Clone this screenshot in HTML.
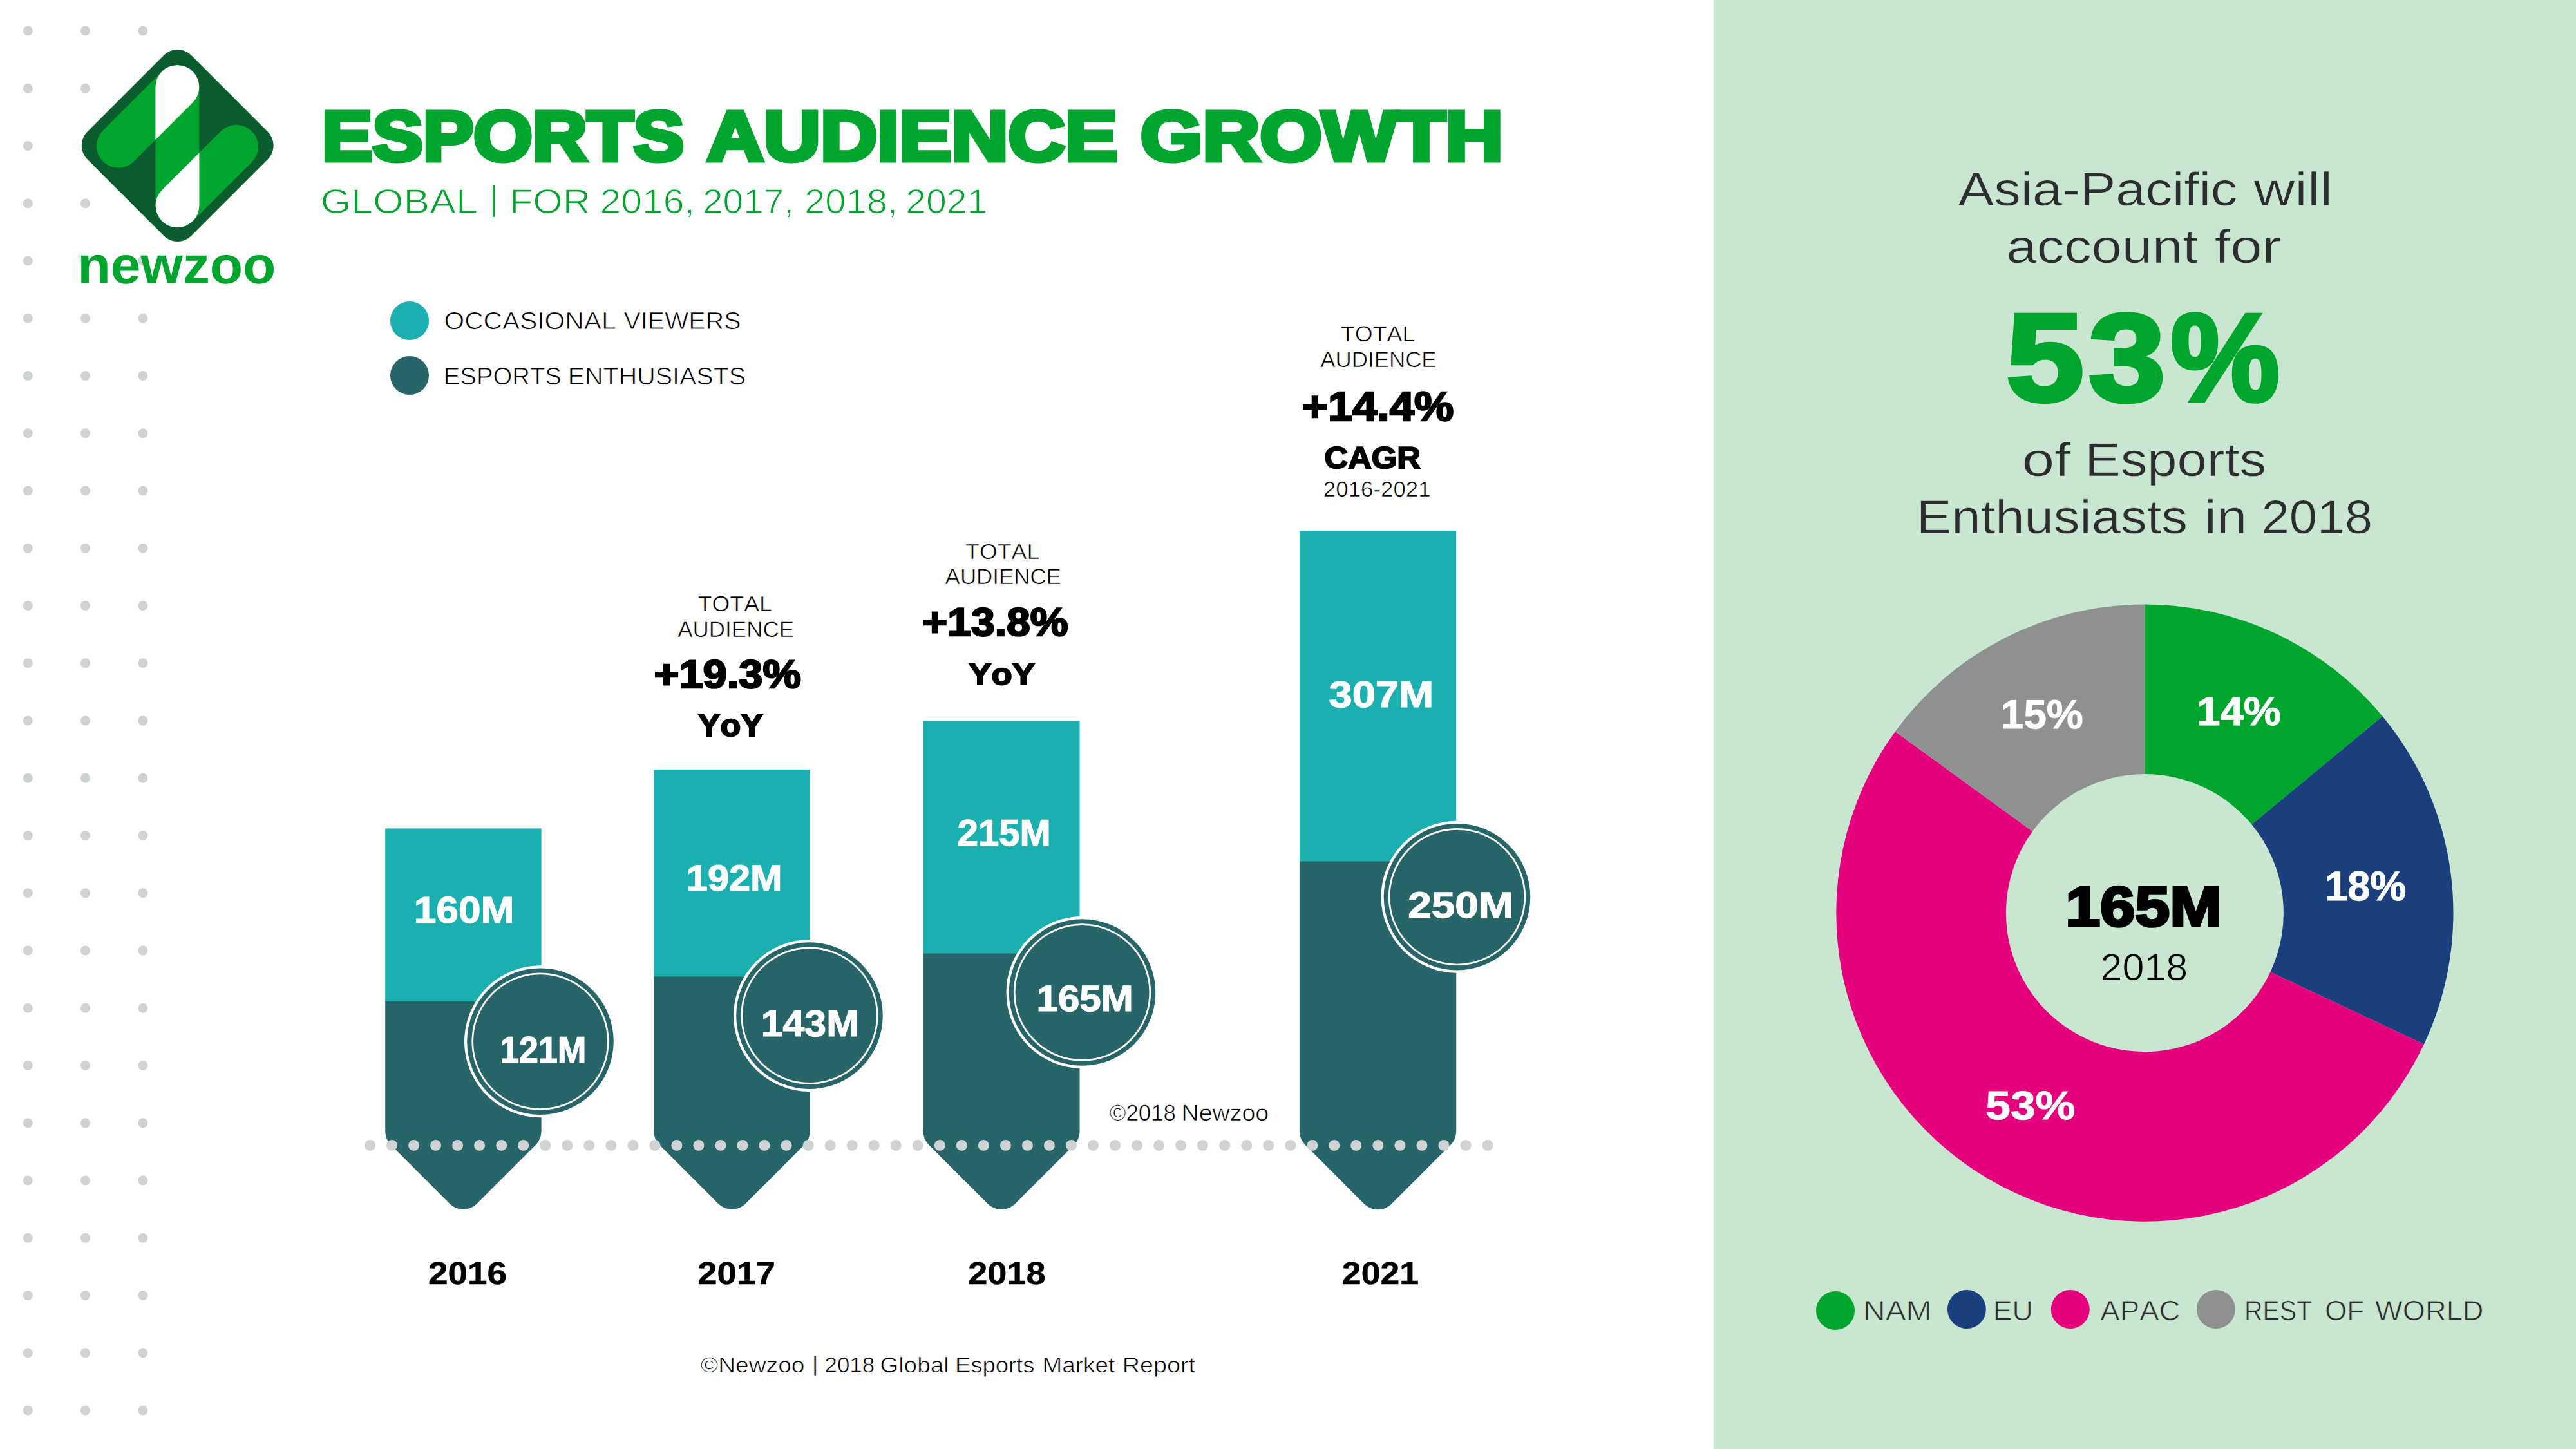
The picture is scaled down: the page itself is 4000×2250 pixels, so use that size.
<!DOCTYPE html>
<html lang="en"><head><meta charset="utf-8"><title>Esports Audience Growth</title><style>html,body{margin:0;padding:0;background:#fff}body{width:4000px;height:2250px;overflow:hidden}svg{display:block}</style></head><body>
<svg width="4000" height="2250" viewBox="0 0 4000 2250" font-family="'Liberation Sans', sans-serif" style="font-kerning:none" text-rendering="geometricPrecision">
<rect width="4000" height="2250" fill="#fff"/>
<rect x="2661" y="0" width="1339" height="2250" fill="#c8e6d0"/>
<g fill="#cfd3d2"><circle cx="43.3" cy="48.0" r="7.5"/><circle cx="132.5" cy="48.0" r="7.5"/><circle cx="221.9" cy="48.0" r="7.5"/><circle cx="43.3" cy="137.2" r="7.5"/><circle cx="132.5" cy="137.2" r="7.5"/><circle cx="43.3" cy="226.5" r="7.5"/><circle cx="43.3" cy="315.8" r="7.5"/><circle cx="132.5" cy="315.8" r="7.5"/><circle cx="43.3" cy="405.0" r="7.5"/><circle cx="132.5" cy="405.0" r="7.5"/><circle cx="221.9" cy="405.0" r="7.5"/><circle cx="43.3" cy="494.2" r="7.5"/><circle cx="132.5" cy="494.2" r="7.5"/><circle cx="221.9" cy="494.2" r="7.5"/><circle cx="43.3" cy="583.5" r="7.5"/><circle cx="132.5" cy="583.5" r="7.5"/><circle cx="221.9" cy="583.5" r="7.5"/><circle cx="43.3" cy="672.8" r="7.5"/><circle cx="132.5" cy="672.8" r="7.5"/><circle cx="221.9" cy="672.8" r="7.5"/><circle cx="43.3" cy="762.0" r="7.5"/><circle cx="132.5" cy="762.0" r="7.5"/><circle cx="221.9" cy="762.0" r="7.5"/><circle cx="43.3" cy="851.2" r="7.5"/><circle cx="132.5" cy="851.2" r="7.5"/><circle cx="221.9" cy="851.2" r="7.5"/><circle cx="43.3" cy="940.5" r="7.5"/><circle cx="132.5" cy="940.5" r="7.5"/><circle cx="221.9" cy="940.5" r="7.5"/><circle cx="43.3" cy="1029.8" r="7.5"/><circle cx="132.5" cy="1029.8" r="7.5"/><circle cx="221.9" cy="1029.8" r="7.5"/><circle cx="43.3" cy="1119.0" r="7.5"/><circle cx="132.5" cy="1119.0" r="7.5"/><circle cx="221.9" cy="1119.0" r="7.5"/><circle cx="43.3" cy="1208.2" r="7.5"/><circle cx="132.5" cy="1208.2" r="7.5"/><circle cx="221.9" cy="1208.2" r="7.5"/><circle cx="43.3" cy="1297.5" r="7.5"/><circle cx="132.5" cy="1297.5" r="7.5"/><circle cx="221.9" cy="1297.5" r="7.5"/><circle cx="43.3" cy="1386.8" r="7.5"/><circle cx="132.5" cy="1386.8" r="7.5"/><circle cx="221.9" cy="1386.8" r="7.5"/><circle cx="43.3" cy="1476.0" r="7.5"/><circle cx="132.5" cy="1476.0" r="7.5"/><circle cx="221.9" cy="1476.0" r="7.5"/><circle cx="43.3" cy="1565.2" r="7.5"/><circle cx="132.5" cy="1565.2" r="7.5"/><circle cx="221.9" cy="1565.2" r="7.5"/><circle cx="43.3" cy="1654.5" r="7.5"/><circle cx="132.5" cy="1654.5" r="7.5"/><circle cx="221.9" cy="1654.5" r="7.5"/><circle cx="43.3" cy="1743.8" r="7.5"/><circle cx="132.5" cy="1743.8" r="7.5"/><circle cx="221.9" cy="1743.8" r="7.5"/><circle cx="43.3" cy="1833.0" r="7.5"/><circle cx="132.5" cy="1833.0" r="7.5"/><circle cx="221.9" cy="1833.0" r="7.5"/><circle cx="43.3" cy="1922.2" r="7.5"/><circle cx="132.5" cy="1922.2" r="7.5"/><circle cx="221.9" cy="1922.2" r="7.5"/><circle cx="43.3" cy="2011.5" r="7.5"/><circle cx="132.5" cy="2011.5" r="7.5"/><circle cx="221.9" cy="2011.5" r="7.5"/><circle cx="43.3" cy="2100.8" r="7.5"/><circle cx="132.5" cy="2100.8" r="7.5"/><circle cx="221.9" cy="2100.8" r="7.5"/><circle cx="43.3" cy="2190.0" r="7.5"/><circle cx="132.5" cy="2190.0" r="7.5"/><circle cx="221.9" cy="2190.0" r="7.5"/></g>
<rect x="-114.15" y="-114.15" width="228.29" height="228.29" rx="30" fill="#0a5c2f" transform="translate(275.7 226.0) rotate(45)"/>
<defs><clipPath id="vclip"><rect x="241.40" y="101.00" width="68.0" height="252.30" rx="34.0"/></clipPath></defs>
<line x1="183.90" y1="226.50" x2="275.40" y2="135.00" stroke="#00a52d" stroke-width="68.0" stroke-linecap="round"/>
<line x1="366.90" y1="227.80" x2="275.40" y2="319.30" stroke="#00a52d" stroke-width="68.0" stroke-linecap="round"/>
<line x1="275.40" y1="135.00" x2="275.40" y2="319.30" stroke="#00a52d" stroke-width="68.0" stroke-linecap="round"/>
<g clip-path="url(#vclip)"><line x1="183.90" y1="226.50" x2="275.40" y2="135.00" stroke="#fff" stroke-width="68.0" stroke-linecap="round"/><line x1="366.90" y1="227.80" x2="275.40" y2="319.30" stroke="#fff" stroke-width="68.0" stroke-linecap="round"/></g>
<text y="440.00" font-size="81.96" font-weight="700" fill="#00a52d"><tspan x="120.47" textLength="307.81" lengthAdjust="spacingAndGlyphs">newzoo</tspan></text>
<text y="248.60" font-size="109.16" font-weight="700" fill="#00a52d" stroke="#00a52d" stroke-width="7" stroke-linejoin="miter"><tspan x="499.73" textLength="562.47" lengthAdjust="spacingAndGlyphs">ESPORTS</tspan> <tspan x="1097.66" textLength="637.51" lengthAdjust="spacingAndGlyphs">AUDIENCE</tspan> <tspan x="1771.13" textLength="562.79" lengthAdjust="spacingAndGlyphs">GROWTH</tspan></text>
<text y="330.80" font-size="53.63" fill="#00a52d" stroke="#fff" stroke-width="1.2" stroke-linejoin="round"><tspan x="497.73" textLength="244.19" lengthAdjust="spacingAndGlyphs">GLOBAL</tspan> <tspan x="759.77" dy="-5.00" textLength="13.46" lengthAdjust="spacingAndGlyphs">|</tspan> <tspan x="790.90" dy="5.00" textLength="126.07" lengthAdjust="spacingAndGlyphs">FOR</tspan> <tspan x="931.43" textLength="147.67" lengthAdjust="spacingAndGlyphs">2016,</tspan> <tspan x="1091.05" textLength="141.95" lengthAdjust="spacingAndGlyphs">2017,</tspan> <tspan x="1248.98" textLength="145.23" lengthAdjust="spacingAndGlyphs">2018,</tspan> <tspan x="1406.23" textLength="127.17" lengthAdjust="spacingAndGlyphs">2021</tspan></text>
<circle cx="636" cy="498" r="30" fill="#1bb0af"/><circle cx="636" cy="583" r="30" fill="#286569"/>
<text y="510.50" font-size="37.94" fill="#000" stroke="#fff" stroke-width="0.8" stroke-linejoin="round"><tspan x="689.47" textLength="267.08" lengthAdjust="spacingAndGlyphs">OCCASIONAL</tspan> <tspan x="968.43" textLength="182.09" lengthAdjust="spacingAndGlyphs">VIEWERS</tspan></text>
<text y="596.90" font-size="37.79" fill="#000" stroke="#fff" stroke-width="0.8" stroke-linejoin="round"><tspan x="688.76" textLength="183.20" lengthAdjust="spacingAndGlyphs">ESPORTS</tspan> <tspan x="881.66" textLength="276.55" lengthAdjust="spacingAndGlyphs">ENTHUSIASTS</tspan></text>
<rect x="598.2" y="1286.4" width="242.4" height="269.6" fill="#1bb0af"/><path d="M598.2,1555.0 H840.6 V1756.6 A30,30 0 0 1 831.81,1777.79 L740.61,1868.99 A30,30 0 0 1 698.19,1868.99 L606.99,1777.79 A30,30 0 0 1 598.2,1756.6 Z" fill="#286569"/>
<rect x="1015.3" y="1194.8" width="242.4" height="322.7" fill="#1bb0af"/><path d="M1015.3,1516.5 H1257.7 V1756.6 A30,30 0 0 1 1248.91,1777.79 L1157.71,1868.99 A30,30 0 0 1 1115.29,1868.99 L1024.09,1777.79 A30,30 0 0 1 1015.3,1756.6 Z" fill="#286569"/>
<rect x="1433.5" y="1119.6" width="243.0" height="361.9" fill="#1bb0af"/><path d="M1433.5,1480.5 H1676.5 V1756.6 A30,30 0 0 1 1667.71,1777.79 L1576.21,1869.29 A30,30 0 0 1 1533.79,1869.29 L1442.29,1777.79 A30,30 0 0 1 1433.5,1756.6 Z" fill="#286569"/>
<rect x="2017.9" y="824.0" width="243.3" height="514.6" fill="#1bb0af"/><path d="M2017.9,1337.6 H2261.2 V1756.6 A30,30 0 0 1 2252.41,1777.79 L2160.76,1869.44 A30,30 0 0 1 2118.34,1869.44 L2026.69,1777.79 A30,30 0 0 1 2017.9,1756.6 Z" fill="#286569"/>
<g fill="#cfd3d2"><circle cx="574.5" cy="1778.5" r="8.5"/><circle cx="608.5" cy="1778.5" r="8.5"/><circle cx="642.6" cy="1778.5" r="8.5"/><circle cx="676.6" cy="1778.5" r="8.5"/><circle cx="710.6" cy="1778.5" r="8.5"/><circle cx="744.6" cy="1778.5" r="8.5"/><circle cx="778.7" cy="1778.5" r="8.5"/><circle cx="812.7" cy="1778.5" r="8.5"/><circle cx="846.7" cy="1778.5" r="8.5"/><circle cx="880.8" cy="1778.5" r="8.5"/><circle cx="914.8" cy="1778.5" r="8.5"/><circle cx="948.8" cy="1778.5" r="8.5"/><circle cx="982.9" cy="1778.5" r="8.5"/><circle cx="1016.9" cy="1778.5" r="8.5"/><circle cx="1050.9" cy="1778.5" r="8.5"/><circle cx="1084.9" cy="1778.5" r="8.5"/><circle cx="1119.0" cy="1778.5" r="8.5"/><circle cx="1153.0" cy="1778.5" r="8.5"/><circle cx="1187.0" cy="1778.5" r="8.5"/><circle cx="1221.1" cy="1778.5" r="8.5"/><circle cx="1255.1" cy="1778.5" r="8.5"/><circle cx="1289.1" cy="1778.5" r="8.5"/><circle cx="1323.2" cy="1778.5" r="8.5"/><circle cx="1357.2" cy="1778.5" r="8.5"/><circle cx="1391.2" cy="1778.5" r="8.5"/><circle cx="1425.2" cy="1778.5" r="8.5"/><circle cx="1459.3" cy="1778.5" r="8.5"/><circle cx="1493.3" cy="1778.5" r="8.5"/><circle cx="1527.3" cy="1778.5" r="8.5"/><circle cx="1561.4" cy="1778.5" r="8.5"/><circle cx="1595.4" cy="1778.5" r="8.5"/><circle cx="1629.4" cy="1778.5" r="8.5"/><circle cx="1663.5" cy="1778.5" r="8.5"/><circle cx="1697.5" cy="1778.5" r="8.5"/><circle cx="1731.5" cy="1778.5" r="8.5"/><circle cx="1765.5" cy="1778.5" r="8.5"/><circle cx="1799.6" cy="1778.5" r="8.5"/><circle cx="1833.6" cy="1778.5" r="8.5"/><circle cx="1867.6" cy="1778.5" r="8.5"/><circle cx="1901.7" cy="1778.5" r="8.5"/><circle cx="1935.7" cy="1778.5" r="8.5"/><circle cx="1969.7" cy="1778.5" r="8.5"/><circle cx="2003.8" cy="1778.5" r="8.5"/><circle cx="2037.8" cy="1778.5" r="8.5"/><circle cx="2071.8" cy="1778.5" r="8.5"/><circle cx="2105.8" cy="1778.5" r="8.5"/><circle cx="2139.9" cy="1778.5" r="8.5"/><circle cx="2173.9" cy="1778.5" r="8.5"/><circle cx="2207.9" cy="1778.5" r="8.5"/><circle cx="2242.0" cy="1778.5" r="8.5"/><circle cx="2276.0" cy="1778.5" r="8.5"/><circle cx="2310.0" cy="1778.5" r="8.5"/></g>
<circle cx="839.0" cy="1617.2" r="118" fill="#fff"/><circle cx="839.0" cy="1617.2" r="113.8" fill="#286569"/><circle cx="839.0" cy="1617.2" r="105.3" fill="none" stroke="#fff" stroke-width="2.7"/>
<circle cx="1257.0" cy="1577.1" r="118" fill="#fff"/><circle cx="1257.0" cy="1577.1" r="113.8" fill="#286569"/><circle cx="1257.0" cy="1577.1" r="105.3" fill="none" stroke="#fff" stroke-width="2.7"/>
<circle cx="1680.5" cy="1541.0" r="118" fill="#fff"/><circle cx="1680.5" cy="1541.0" r="113.8" fill="#286569"/><circle cx="1680.5" cy="1541.0" r="105.3" fill="none" stroke="#fff" stroke-width="2.7"/>
<circle cx="2262.5" cy="1392.7" r="118" fill="#fff"/><circle cx="2262.5" cy="1392.7" r="113.8" fill="#286569"/><circle cx="2262.5" cy="1392.7" r="105.3" fill="none" stroke="#fff" stroke-width="2.7"/>
<text y="1432.50" font-size="58.14" font-weight="700" fill="#fff" stroke="#fff" stroke-width="1.2" stroke-linejoin="miter"><tspan x="642.68" textLength="155.79" lengthAdjust="spacingAndGlyphs">160M</tspan></text>
<text y="1383.10" font-size="56.98" font-weight="700" fill="#fff" stroke="#fff" stroke-width="1.2" stroke-linejoin="miter"><tspan x="1065.86" textLength="148.72" lengthAdjust="spacingAndGlyphs">192M</tspan></text>
<text y="1312.90" font-size="57.56" font-weight="700" fill="#fff" stroke="#fff" stroke-width="1.2" stroke-linejoin="miter"><tspan x="1486.89" textLength="144.88" lengthAdjust="spacingAndGlyphs">215M</tspan></text>
<text y="1097.70" font-size="57.56" font-weight="700" fill="#fff" stroke="#fff" stroke-width="1.2" stroke-linejoin="miter"><tspan x="2063.51" textLength="162.85" lengthAdjust="spacingAndGlyphs">307M</tspan></text>
<text y="1649.90" font-size="57.70" font-weight="700" fill="#fff" stroke="#fff" stroke-width="1.2" stroke-linejoin="miter"><tspan x="776.22" textLength="134.38" lengthAdjust="spacingAndGlyphs">121M</tspan></text>
<text y="1608.90" font-size="58.00" font-weight="700" fill="#fff" stroke="#fff" stroke-width="1.2" stroke-linejoin="miter"><tspan x="1181.77" textLength="151.99" lengthAdjust="spacingAndGlyphs">143M</tspan></text>
<text y="1570.40" font-size="56.98" font-weight="700" fill="#fff" stroke="#fff" stroke-width="1.2" stroke-linejoin="miter"><tspan x="1609.62" textLength="150.09" lengthAdjust="spacingAndGlyphs">165M</tspan></text>
<text y="1424.80" font-size="56.98" font-weight="700" fill="#fff" stroke="#fff" stroke-width="1.2" stroke-linejoin="miter"><tspan x="2186.22" textLength="164.27" lengthAdjust="spacingAndGlyphs">250M</tspan></text>
<text y="949.30" font-size="33.58" fill="#000" stroke="#fff" stroke-width="0.6" stroke-linejoin="round"><tspan x="1083.70" textLength="115.19" lengthAdjust="spacingAndGlyphs">TOTAL</tspan></text>
<text y="989.40" font-size="34.16" fill="#000" stroke="#fff" stroke-width="0.6" stroke-linejoin="round"><tspan x="1052.23" textLength="180.87" lengthAdjust="spacingAndGlyphs">AUDIENCE</tspan></text>
<text y="1067.75" font-size="61.48" font-weight="700" fill="#000" stroke="#000" stroke-width="2.5" stroke-linejoin="miter"><tspan x="1015.44" textLength="228.47" lengthAdjust="spacingAndGlyphs">+19.3%</tspan></text>
<text y="1143.30" font-size="48.98" font-weight="700" fill="#000" stroke="#000" stroke-width="2" stroke-linejoin="miter"><tspan x="1083.71" textLength="101.43" lengthAdjust="spacingAndGlyphs">YoY</tspan></text>
<text y="867.60" font-size="33.43" fill="#000" stroke="#fff" stroke-width="0.6" stroke-linejoin="round"><tspan x="1499.10" textLength="115.19" lengthAdjust="spacingAndGlyphs">TOTAL</tspan></text>
<text y="907.30" font-size="34.30" fill="#000" stroke="#fff" stroke-width="0.6" stroke-linejoin="round"><tspan x="1467.63" textLength="180.27" lengthAdjust="spacingAndGlyphs">AUDIENCE</tspan></text>
<text y="987.35" font-size="61.63" font-weight="700" fill="#000" stroke="#000" stroke-width="2.5" stroke-linejoin="miter"><tspan x="1432.57" textLength="226.12" lengthAdjust="spacingAndGlyphs">+13.8%</tspan></text>
<text y="1063.00" font-size="46.80" font-weight="700" fill="#000" stroke="#000" stroke-width="2" stroke-linejoin="miter"><tspan x="1504.30" textLength="102.55" lengthAdjust="spacingAndGlyphs">YoY</tspan></text>
<text y="530.40" font-size="34.01" fill="#000" stroke="#fff" stroke-width="0.6" stroke-linejoin="round"><tspan x="2081.89" textLength="115.60" lengthAdjust="spacingAndGlyphs">TOTAL</tspan></text>
<text y="570.20" font-size="34.16" fill="#000" stroke="#fff" stroke-width="0.6" stroke-linejoin="round"><tspan x="2050.33" textLength="180.27" lengthAdjust="spacingAndGlyphs">AUDIENCE</tspan></text>
<text y="653.05" font-size="63.81" font-weight="700" fill="#000" stroke="#000" stroke-width="2.5" stroke-linejoin="miter"><tspan x="2021.66" textLength="235.71" lengthAdjust="spacingAndGlyphs">+14.4%</tspan></text>
<text y="726.60" font-size="47.68" font-weight="700" fill="#000" stroke="#000" stroke-width="2" stroke-linejoin="miter"><tspan x="2056.52" textLength="149.42" lengthAdjust="spacingAndGlyphs">CAGR</tspan></text>
<text y="770.80" font-size="33.29" fill="#000" stroke="#fff" stroke-width="0.6" stroke-linejoin="round"><tspan x="2054.85" textLength="166.76" lengthAdjust="spacingAndGlyphs">2016-2021</tspan></text>
<text y="1739.90" font-size="35.18" fill="#000" stroke="#fff" stroke-width="0.6" stroke-linejoin="round"><tspan x="1722.77" textLength="103.24" lengthAdjust="spacingAndGlyphs">©2018</tspan> <tspan x="1834.52" textLength="135.66" lengthAdjust="spacingAndGlyphs">Newzoo</tspan></text>
<text y="1993.85" font-size="49.42" font-weight="700" fill="#000" stroke="#000" stroke-width="0.5" stroke-linejoin="miter"><tspan x="665.05" textLength="122.09" lengthAdjust="spacingAndGlyphs">2016</tspan></text>
<text y="1993.85" font-size="49.42" font-weight="700" fill="#000" stroke="#000" stroke-width="0.5" stroke-linejoin="miter"><tspan x="1083.37" textLength="120.66" lengthAdjust="spacingAndGlyphs">2017</tspan></text>
<text y="1993.85" font-size="49.42" font-weight="700" fill="#000" stroke="#000" stroke-width="0.5" stroke-linejoin="miter"><tspan x="1503.17" textLength="120.44" lengthAdjust="spacingAndGlyphs">2018</tspan></text>
<text y="1993.85" font-size="49.42" font-weight="700" fill="#000" stroke="#000" stroke-width="0.5" stroke-linejoin="miter"><tspan x="2083.89" textLength="119.04" lengthAdjust="spacingAndGlyphs">2021</tspan></text>
<text y="2130.60" font-size="33.29" fill="#000" stroke="#fff" stroke-width="0.6" stroke-linejoin="round"><tspan x="1087.84" textLength="161.72" lengthAdjust="spacingAndGlyphs">©Newzoo</tspan> <tspan x="1260.57" dy="-2.00" textLength="10.26" lengthAdjust="spacingAndGlyphs">|</tspan> <tspan x="1280.44" dy="2.00" textLength="77.78" lengthAdjust="spacingAndGlyphs">2018</tspan> <tspan x="1366.64" textLength="106.83" lengthAdjust="spacingAndGlyphs">Global</tspan> <tspan x="1482.91" textLength="123.50" lengthAdjust="spacingAndGlyphs">Esports</tspan> <tspan x="1618.58" textLength="112.59" lengthAdjust="spacingAndGlyphs">Market</tspan> <tspan x="1742.70" textLength="113.38" lengthAdjust="spacingAndGlyphs">Report</tspan></text>
<text y="318.70" font-size="73.11" fill="#2d2d2f" stroke="#c8e6d0" stroke-width="0.6" stroke-linejoin="round"><tspan x="3040.84" textLength="433.55" lengthAdjust="spacingAndGlyphs">Asia-Pacific</tspan> <tspan x="3499.83" textLength="122.16" lengthAdjust="spacingAndGlyphs">will</tspan></text>
<text y="408.30" font-size="73.11" fill="#2d2d2f" stroke="#c8e6d0" stroke-width="0.6" stroke-linejoin="round"><tspan x="3115.49" textLength="297.33" lengthAdjust="spacingAndGlyphs">account</tspan> <tspan x="3438.75" textLength="103.32" lengthAdjust="spacingAndGlyphs">for</tspan></text>
<text y="621.75" font-size="193.17" font-weight="700" fill="#00a52d" stroke="#00a52d" stroke-width="6.5" stroke-linejoin="miter"><tspan x="3115.37" textLength="120.72" lengthAdjust="spacingAndGlyphs">5</tspan><tspan x="3243.33" textLength="119.16" lengthAdjust="spacingAndGlyphs">3</tspan><tspan x="3370.61" textLength="169.26" lengthAdjust="spacingAndGlyphs">%</tspan></text>
<text y="738.70" font-size="73.11" fill="#2d2d2f" stroke="#c8e6d0" stroke-width="0.6" stroke-linejoin="round"><tspan x="3139.80" textLength="75.47" lengthAdjust="spacingAndGlyphs">of</tspan> <tspan x="3237.28" textLength="281.93" lengthAdjust="spacingAndGlyphs">Esports</tspan></text>
<text y="828.40" font-size="73.40" fill="#2d2d2f" stroke="#c8e6d0" stroke-width="0.6" stroke-linejoin="round"><tspan x="2976.02" textLength="421.02" lengthAdjust="spacingAndGlyphs">Enthusiasts</tspan> <tspan x="3423.12" textLength="66.10" lengthAdjust="spacingAndGlyphs">in</tspan> <tspan x="3511.70" textLength="172.47" lengthAdjust="spacingAndGlyphs">2018</tspan></text>
<path d="M3330.40,938.50 A479.1,479.1 0 0 1 3699.55,1112.21 L3496.45,1280.24 A215.5,215.5 0 0 0 3330.40,1202.10 Z" fill="#00a52d"/>
<path d="M3699.55,1112.21 A479.1,479.1 0 0 1 3763.90,1621.59 L3525.39,1509.36 A215.5,215.5 0 0 0 3496.45,1280.24 Z" fill="#1b3f7c"/>
<path d="M3763.90,1621.59 A479.1,479.1 0 1 1 2942.80,1135.99 L3156.06,1290.93 A215.5,215.5 0 1 0 3525.39,1509.36 Z" fill="#e5007d"/>
<path d="M2942.80,1135.99 A479.1,479.1 0 0 1 3330.40,938.50 L3330.40,1202.10 A215.5,215.5 0 0 0 3156.06,1290.93 Z" fill="#8f9190"/>
<text y="1126.20" font-size="62.36" font-weight="700" fill="#fff" stroke="#fff" stroke-width="1.0" stroke-linejoin="miter"><tspan x="3411.19" textLength="130.63" lengthAdjust="spacingAndGlyphs">14%</tspan></text>
<text y="1130.60" font-size="63.37" font-weight="700" fill="#fff" stroke="#fff" stroke-width="1.0" stroke-linejoin="miter"><tspan x="3107.09" textLength="127.49" lengthAdjust="spacingAndGlyphs">15%</tspan></text>
<text y="1398.30" font-size="64.39" font-weight="700" fill="#fff" stroke="#fff" stroke-width="1.0" stroke-linejoin="miter"><tspan x="3610.33" textLength="126.03" lengthAdjust="spacingAndGlyphs">18%</tspan></text>
<text y="1738.40" font-size="62.36" font-weight="700" fill="#fff" stroke="#fff" stroke-width="1.0" stroke-linejoin="miter"><tspan x="3083.36" textLength="138.97" lengthAdjust="spacingAndGlyphs">53%</tspan></text>
<text y="1437.70" font-size="87.65" font-weight="700" fill="#000" stroke="#000" stroke-width="4" stroke-linejoin="miter"><tspan x="3207.39" textLength="242.60" lengthAdjust="spacingAndGlyphs">165M</tspan></text>
<text y="1522.10" font-size="58.58" fill="#000" stroke="#c8e6d0" stroke-width="0.8" stroke-linejoin="round"><tspan x="3261.43" textLength="135.93" lengthAdjust="spacingAndGlyphs">2018</tspan></text>
<circle cx="2850" cy="2035" r="30" fill="#00a52d"/>
<circle cx="3053.9" cy="2033" r="30" fill="#1b3f7c"/>
<circle cx="3214.8" cy="2033" r="30" fill="#e5007d"/>
<circle cx="3440.9" cy="2033" r="30" fill="#8f9190"/>
<text y="2050.40" font-size="43.46" fill="#2d2d2f" stroke="#c8e6d0" stroke-width="0.8" stroke-linejoin="round"><tspan x="2893.07" textLength="106.46" lengthAdjust="spacingAndGlyphs">NAM</tspan></text>
<text y="2050.40" font-size="43.46" fill="#2d2d2f" stroke="#c8e6d0" stroke-width="0.8" stroke-linejoin="round"><tspan x="3094.63" textLength="62.23" lengthAdjust="spacingAndGlyphs">EU</tspan></text>
<text y="2050.40" font-size="43.46" fill="#2d2d2f" stroke="#c8e6d0" stroke-width="0.8" stroke-linejoin="round"><tspan x="3261.21" textLength="124.43" lengthAdjust="spacingAndGlyphs">APAC</tspan></text>
<text y="2050.40" font-size="43.46" fill="#2d2d2f" stroke="#c8e6d0" stroke-width="0.8" stroke-linejoin="round"><tspan x="3485.07" textLength="104.93" lengthAdjust="spacingAndGlyphs">REST</tspan> <tspan x="3610.11" textLength="61.15" lengthAdjust="spacingAndGlyphs">OF</tspan> <tspan x="3688.10" textLength="168.36" lengthAdjust="spacingAndGlyphs">WORLD</tspan></text>
</svg>
</body></html>
